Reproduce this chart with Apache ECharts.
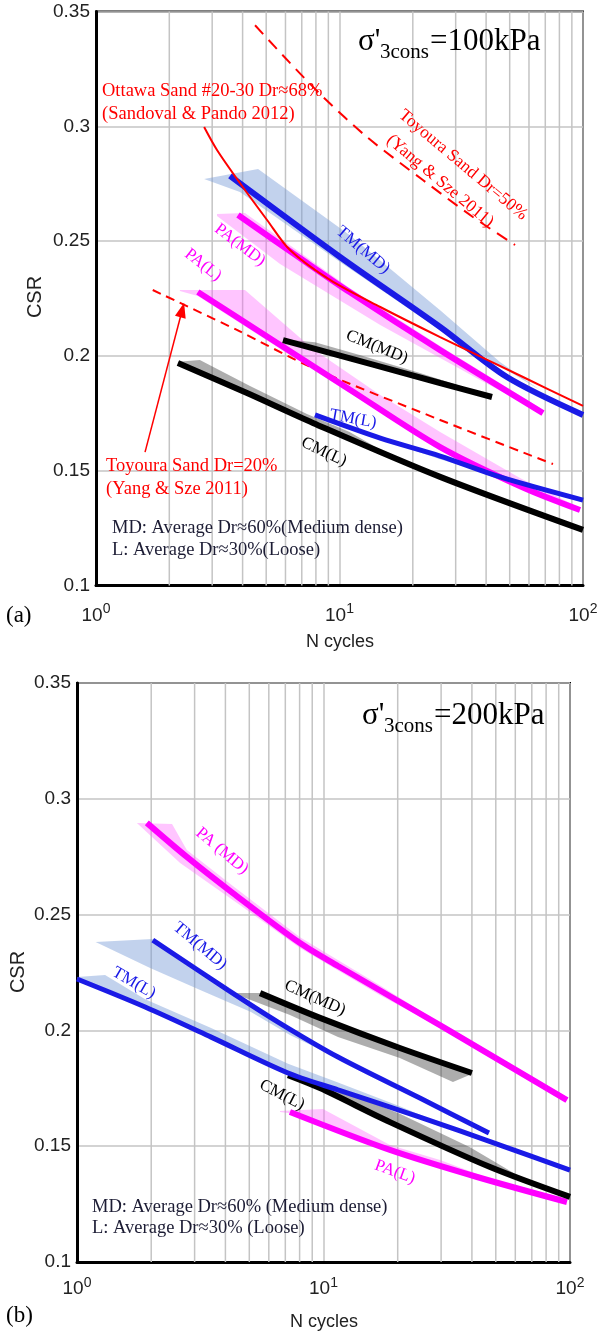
<!DOCTYPE html>
<html>
<head>
<meta charset="utf-8">
<script src="https://cdn.jsdelivr.net/npm/echarts@6/dist/echarts.min.js"></script>
<style>
    html, body { margin: 0; padding: 0; background: #fff; }
    #main { width: 599px; height: 1332px; }
</style>
</head>
<body>
<div id="main"></div>
<script>
// axis ticks
var yMin = 0.1, yMax = 0.35, yStep = 0.05;
var xMin = 1, xMax = 100;
var minorTicks = [2, 3, 4, 5, 6, 7, 8, 9, 20, 30, 40, 50, 60, 70, 80, 90];

// ---- panel (a) sigma'3cons = 100 kPa, points are [N cycles, CSR] ----
var aToyoura50 = [[4.5, 0.344], [6.26, 0.3276], [8.56, 0.3128], [12.97, 0.2953], [22.0, 0.2766], [35.3, 0.2605], [52.6, 0.2483]];
var aOttawa = [[2.78, 0.2997], [3.14, 0.2897], [3.90, 0.2753], [5.04, 0.2592], [6.26, 0.2461], [9.14, 0.2331], [14.7, 0.2213], [25.9, 0.2082], [56.7, 0.1908], [100, 0.1782]];
var aToyoura20 = [[1.71, 0.2287], [3.79, 0.2113], [7.78, 0.1947], [25.9, 0.1721], [75.3, 0.1529]];
var aArrow = [[1.59, 0.1581], [2.26, 0.2200]];

var aTM_MD = [[3.55, 0.2784], [10.05, 0.2431], [25.9, 0.2126], [48.7, 0.1908], [100, 0.1743]];
var aTM_MD_up = [[2.78, 0.2770], [4.63, 0.2814], [11.0, 0.2527], [25.9, 0.2199], [45.6, 0.1973], [66.6, 0.1851]];
var aTM_MD_lo = [[2.78, 0.2770], [3.9, 0.2714], [10.05, 0.2409], [25.9, 0.2113], [66.6, 0.1851]];

var aPA_MD = [[3.83, 0.2614], [6.88, 0.2426], [11.0, 0.2278], [25.9, 0.2025], [68.5, 0.1751]];
var aPA_MD_up = [[3.14, 0.2618], [4.09, 0.2622], [11.0, 0.2296], [25.9, 0.2043], [66.6, 0.1773]];
var aPA_MD_lo = [[3.14, 0.2609], [5.70, 0.2400], [14.7, 0.2135], [37.8, 0.1895], [66.6, 0.1756]];

var aPA_L = [[2.62, 0.2278], [4.58, 0.2113], [11.0, 0.1854], [25.9, 0.1603], [56.7, 0.1427], [97.2, 0.1329]];
var aPA_L_up = [[2.21, 0.2287], [4.09, 0.2287], [7.78, 0.2030], [14.7, 0.1830], [25.9, 0.1669], [55.1, 0.1468], [97.2, 0.1338]];
var aPA_L_lo = [[2.21, 0.2283], [2.62, 0.2261], [4.58, 0.2095], [11.0, 0.1838], [25.9, 0.1590], [97.2, 0.1320]];

var aCM_MD = [[5.86, 0.2069], [25.9, 0.1882], [42.3, 0.1821]];
var aCM_MD_up = [[5.86, 0.2073], [7.93, 0.2059], [12.1, 0.2004], [21.4, 0.1926], [34.4, 0.1855]];
var aCM_MD_lo = [[5.86, 0.2065], [25.9, 0.1879], [34.4, 0.1845]];

var aCM_L = [[2.17, 0.1969], [4.17, 0.1838], [7.78, 0.1708], [25.9, 0.1473], [100, 0.1242]];
var aCM_L_up = [[2.17, 0.1975], [2.67, 0.1982], [4.29, 0.1869], [7.35, 0.1747], [11.0, 0.1669], [16, 0.1570]];
var aCM_L_lo = [[2.17, 0.1962], [4.17, 0.1832], [7.78, 0.1702], [16, 0.1564]];

var aTM_L = [[7.93, 0.1743], [14.7, 0.1642], [25.9, 0.1564], [45.6, 0.1473], [100, 0.1372]];
var aTM_L_lo = [[7.93, 0.1735], [25.9, 0.1550], [55, 0.1445], [100, 0.1362]];

// ---- panel (b) sigma'3cons = 200 kPa ----
var bPA_MD = [[1.92, 0.2896], [2.79, 0.2749], [4.29, 0.2593], [8.03, 0.2377], [11.45, 0.2278], [30.5, 0.2015], [97.2, 0.1699]];
var bPA_MD_up = [[1.75, 0.2896], [2.43, 0.2891], [2.79, 0.2779], [4.29, 0.2623], [8.03, 0.2402], [16.9, 0.2195], [32.6, 0.2005]];
var bPA_MD_lo = [[1.75, 0.2896], [2.62, 0.2723], [4.58, 0.2541], [8.03, 0.2356], [16.9, 0.2153], [32.6, 0.1990]];

var bTM_MD = [[2.03, 0.2390], [4.10, 0.2174], [6.54, 0.2036], [11.45, 0.1885], [24.6, 0.1708], [46.9, 0.1557]];
var bTM_MD_up = [[1.19, 0.2382], [2.03, 0.2395], [4.10, 0.2180], [6.54, 0.2042], [11.45, 0.1890], [24.6, 0.1712], [46.9, 0.1560]];
var bTM_MD_lo = [[1.19, 0.2382], [1.98, 0.2269], [3.16, 0.2174], [5.08, 0.2079], [7.31, 0.1980], [12.8, 0.1855], [24.6, 0.1700], [46.9, 0.1552]];

var bTM_L = [[1.0, 0.2222], [1.89, 0.2101], [3.50, 0.1971], [7.18, 0.1816], [11.45, 0.1743], [24.6, 0.1626], [52.0, 0.1505], [100, 0.1397]];
var bTM_L_up = [[1.0, 0.2231], [1.30, 0.2239], [1.89, 0.2135], [3.50, 0.2010], [7.18, 0.1856], [11.45, 0.1775], [20.4, 0.1672], [30, 0.1598]];
var bTM_L_lo = [[1.0, 0.2222], [1.89, 0.2101], [3.50, 0.1971], [7.18, 0.1816], [11.45, 0.1743], [30, 0.1594]];

var bCM_MD = [[5.53, 0.2161], [9.68, 0.2054], [20.4, 0.1924], [40.0, 0.1816]];
var bCM_MD_up = [[4.38, 0.2161], [5.53, 0.2161], [9.68, 0.2054], [20.4, 0.1924], [40.0, 0.1816]];
var bCM_MD_lo = [[4.38, 0.2157], [7.31, 0.2066], [11.45, 0.1972], [20.4, 0.1881], [33.5, 0.1777], [40.0, 0.1812]];

var bCM_L = [[7.18, 0.1807], [9.68, 0.1751], [18.6, 0.1604], [47.4, 0.1410], [100, 0.1281]];
var bCM_L_up = [[7.18, 0.1816], [11.7, 0.1743], [20.4, 0.1640], [39.3, 0.1495], [60, 0.1380], [90, 0.1300]];
var bCM_L_lo = [[7.18, 0.1807], [9.68, 0.1751], [18.6, 0.1604], [47.4, 0.1410], [90, 0.1292]];

var bPA_L = [[7.31, 0.1648], [18.6, 0.1484], [42.0, 0.1367], [97.2, 0.1259]];
var bPA_L_up = [[6.66, 0.1652], [9.95, 0.1661], [18.6, 0.1505], [29.7, 0.1440], [50, 0.1350]];
var bPA_L_lo = [[6.66, 0.1648], [7.31, 0.1642], [18.6, 0.1478], [29.7, 0.1410], [50, 0.1340]];

// colours
var RED = '#ff0000', BLUE = '#1a1ae6', MAG = '#ff00ff', BLK = '#000000';
var BAND_BLUE = 'rgba(120,155,215,0.45)', BAND_PINK = 'rgba(255,90,255,0.35)', BAND_GRAY = 'rgba(60,60,60,0.42)';
var GRIDC = '#c4c4c4';
var SERIF = '"Liberation Serif", "Times New Roman", serif';
var SANS = '"Liberation Sans", Arial, sans-serif';

var chart = echarts.init(document.getElementById('main'));

function line(idx, data, color, width, dash) {
    return {
        type: 'line', xAxisIndex: idx, yAxisIndex: idx, data: data,
        smooth: 0.3, showSymbol: false, symbol: 'none', silent: true, z: 4,
        lineStyle: { color: color, width: width, type: dash || 'solid' }
    };
}

function band(idx, upper, lower, color) {
    var pts = upper.concat(lower.slice().reverse());
    return {
        type: 'custom', xAxisIndex: idx, yAxisIndex: idx, silent: true, z: 3,
        data: [pts[0]],
        renderItem: function (params, api) {
            return {
                type: 'polygon',
                shape: { points: pts.map(function (p) { return api.coord(p); }) },
                style: { fill: color }
            };
        }
    };
}

// minor vertical grid lines at 2..9, 20..90
function minorGrid(idx) {
    return {
        type: 'custom', xAxisIndex: idx, yAxisIndex: idx, silent: true, z: 1,
        data: minorTicks.map(function (v) { return [v, yMin]; }),
        renderItem: function (params, api) {
            var p0 = api.coord([api.value(0), yMin]);
            var p1 = api.coord([api.value(0), yMax]);
            return {
                type: 'line',
                shape: { x1: p0[0], y1: p0[1], x2: p1[0], y2: p1[1] },
                style: { stroke: GRIDC, lineWidth: 1.5 }
            };
        }
    };
}

function xAx(idx, margin) {
    return {
        type: 'log', logBase: 10, gridIndex: idx, min: xMin, max: xMax,
        axisLine: { show: true, lineStyle: { color: '#000', width: 3 } },
        axisTick: { show: false },
        splitLine: { show: true, lineStyle: { color: GRIDC, width: 1.5 } },
        axisLabel: {
            margin: margin, color: '#222',
            formatter: function (v) { return '{b|10}{s|' + Math.round(Math.log(v) / Math.LN10) + '}'; },
            rich: {
                b: { fontSize: 19, fontFamily: SANS, color: '#222', lineHeight: 26 },
                s: { fontSize: 14, fontFamily: SANS, color: '#222', lineHeight: 12, verticalAlign: 'top' }
            }
        }
    };
}

function yAx(idx) {
    return {
        type: 'value', gridIndex: idx, min: yMin, max: yMax, interval: yStep,
        axisLine: { show: true, lineStyle: { color: '#000', width: 3 } },
        axisTick: { show: false },
        splitLine: { show: true, lineStyle: { color: GRIDC, width: 1.5 } },
        axisLabel: { margin: 6, fontSize: 19, fontFamily: SANS, color: '#222' }
    };
}

function txt(x, y, text, size, color, opt) {
    opt = opt || {};
    var align = opt.align || 'center';
    return {
        type: 'text', x: x, y: y, z: 50, silent: true,
        rotation: (opt.rot || 0) * Math.PI / 180,
        style: {
            text: text, fill: color,
            font: size + 'px ' + (opt.font || SERIF),
            textAlign: align, textVerticalAlign: 'middle',
            align: align, verticalAlign: 'middle'
        }
    };
}

var graphics = [
    // panel (a)
    txt(358, 42, "σ'", 31, BLK, { align: 'left' }),
    txt(380, 52, '3cons', 21, BLK, { align: 'left' }),
    txt(430, 42, '=100kPa', 31, BLK, { align: 'left' }),
    txt(102, 91, 'Ottawa Sand #20-30 Dr≈68%', 18.5, RED, { align: 'left' }),
    txt(102, 114, '(Sandoval & Pando 2012)', 18.5, RED, { align: 'left' }),
    txt(463, 165, 'Toyoura Sand Dr=50%', 17.5, RED, { rot: -40 }),
    txt(440, 181, '(Yang & Sze 2011)', 17.5, RED, { rot: -40 }),
    txt(363, 250, 'TM(MD)', 17, BLUE, { rot: -40 }),
    txt(240, 245, 'PA(MD)', 17, MAG, { rot: -37 }),
    txt(203, 265, 'PA(L)', 17, MAG, { rot: -38 }),
    txt(377, 347, 'CM(MD)', 17, BLK, { rot: -22 }),
    txt(353, 419, 'TM(L)', 17, BLUE, { rot: -10 }),
    txt(324, 452, 'CM(L)', 17, BLK, { rot: -25 }),
    txt(106, 466, 'Toyoura Sand Dr=20%', 18.5, RED, { align: 'left' }),
    txt(106, 489, '(Yang & Sze 2011)', 18.5, RED, { align: 'left' }),
    txt(112, 528, 'MD: Average Dr≈60%(Medium dense)', 18.5, '#1c1c34', { align: 'left' }),
    txt(112, 550, 'L: Average Dr≈30%(Loose)', 18.5, '#1c1c34', { align: 'left' }),
    txt(35, 297, 'CSR', 20, '#222', { rot: 90, font: SANS }),
    txt(340, 642, 'N cycles', 18, '#222', { font: SANS }),
    txt(6, 616, '(a)', 23, BLK, { align: 'left' }),
    // panel (b)
    txt(362, 716, "σ'", 31, BLK, { align: 'left' }),
    txt(384, 726, '3cons', 21, BLK, { align: 'left' }),
    txt(434, 716, '=200kPa', 31, BLK, { align: 'left' }),
    txt(222, 851, 'PA (MD)', 17, MAG, { rot: -40 }),
    txt(200, 946, 'TM(MD)', 17, BLUE, { rot: -40 }),
    txt(134, 983, 'TM(L)', 17, BLUE, { rot: -30 }),
    txt(315, 998, 'CM(MD)', 17, BLK, { rot: -24 }),
    txt(282, 1095, 'CM(L)', 17, BLK, { rot: -27 }),
    txt(395, 1172, 'PA(L)', 17, MAG, { rot: -20 }),
    txt(92, 1207, 'MD: Average Dr≈60% (Medium dense)', 18.5, '#1c1c34', { align: 'left' }),
    txt(92, 1228, 'L: Average Dr≈30% (Loose)', 18.5, '#1c1c34', { align: 'left' }),
    txt(18, 972, 'CSR', 20, '#222', { rot: 90, font: SANS }),
    txt(324, 1322, 'N cycles', 18, '#222', { font: SANS }),
    txt(6, 1316, '(b)', 23, BLK, { align: 'left' })
];

var toyoura20 = line(0, aToyoura20, RED, 2, [9, 6]);
toyoura20.markLine = {
    silent: true, symbol: ['none', 'triangle'], symbolSize: [11, 15],
    label: { show: false },
    lineStyle: { color: RED, width: 1.5, type: 'solid' },
    data: [[{ coord: aArrow[0] }, { coord: aArrow[1] }]]
};

var option = {
    animation: false,
    backgroundColor: '#fff',
    grid: [
        { left: 96, top: 11.5, width: 487, height: 574, show: true, borderColor: '#000', borderWidth: 2, outerBoundsMode: 'none' },
        { left: 77, top: 683, width: 493, height: 579, show: true, borderColor: '#000', borderWidth: 2, outerBoundsMode: 'none' }
    ],
    xAxis: [xAx(0, 17), xAx(1, 14)],
    yAxis: [yAx(0), yAx(1)],
    graphic: graphics,
    series: [
        minorGrid(0),
        minorGrid(1),
        // (a) bands
        band(0, aTM_MD_up, aTM_MD_lo, BAND_BLUE),
        band(0, aPA_MD_up, aPA_MD_lo, BAND_PINK),
        band(0, aPA_L_up, aPA_L_lo, BAND_PINK),
        band(0, aCM_MD_up, aCM_MD_lo, BAND_GRAY),
        band(0, aCM_L_up, aCM_L_lo, BAND_GRAY),
        band(0, aTM_L, aTM_L_lo, BAND_BLUE),
        // (a) lines
        line(0, aToyoura50, RED, 2, [12, 8]),
        toyoura20,
        line(0, aPA_MD, MAG, 6),
        line(0, aPA_L, MAG, 6),
        line(0, aCM_MD, BLK, 6),
        line(0, aCM_L, BLK, 6),
        line(0, aTM_L, BLUE, 5),
        line(0, aTM_MD, BLUE, 6),
        line(0, aOttawa, RED, 2),
        // (b) bands
        band(1, bPA_MD_up, bPA_MD_lo, BAND_PINK),
        band(1, bTM_MD_up, bTM_MD_lo, BAND_BLUE),
        band(1, bTM_L_up, bTM_L_lo, BAND_BLUE),
        band(1, bCM_MD_up, bCM_MD_lo, BAND_GRAY),
        band(1, bCM_L_up, bCM_L_lo, BAND_GRAY),
        band(1, bPA_L_up, bPA_L_lo, BAND_PINK),
        // (b) lines
        line(1, bPA_MD, MAG, 6),
        line(1, bPA_L, MAG, 6),
        line(1, bCM_MD, BLK, 6),
        line(1, bCM_L, BLK, 6),
        line(1, bTM_MD, BLUE, 5),
        line(1, bTM_L, BLUE, 5)
    ]
};

chart.setOption(option);
</script>
</body>
</html>
